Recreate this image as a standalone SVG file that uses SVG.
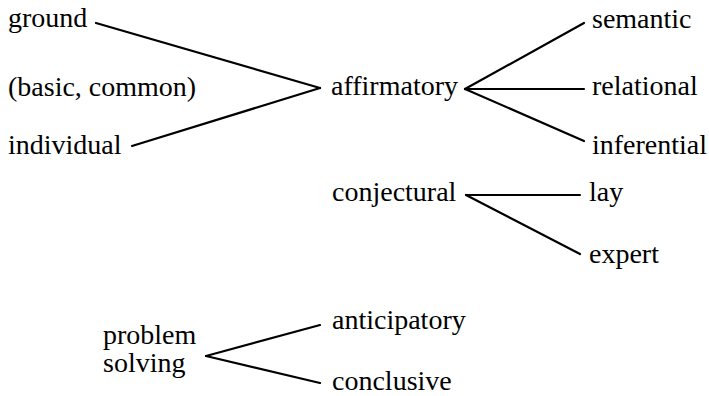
<svg xmlns="http://www.w3.org/2000/svg" width="709" height="396" viewBox="0 0 709 396">
<style>
text{font-family:'Liberation Serif','DejaVu Serif',serif;font-size:28px;fill:#000}
.c line{stroke:#000;stroke-width:2.2;stroke-linecap:round}
</style>
<rect width="709" height="396" fill="#fff"/>
<g class="c" id="connectors">
<line x1="96" y1="23" x2="320" y2="88"/>
<line x1="132" y1="146" x2="320" y2="88"/>
<line x1="465" y1="89" x2="584" y2="23"/>
<line x1="465" y1="89" x2="584" y2="89"/>
<line x1="465" y1="89" x2="584" y2="141"/>
<line x1="466" y1="195" x2="580" y2="195"/>
<line x1="466" y1="195" x2="580" y2="254"/>
<line x1="206" y1="356" x2="320" y2="325"/>
<line x1="206" y1="356" x2="320" y2="383"/>
</g>
<g id="ground"><text x="8" y="27">ground</text></g>
<g id="basic"><text x="8" y="96">(basic, common)</text></g>
<g id="individual"><text x="8" y="154">individual</text></g>
<g id="affirmatory"><text x="331" y="95">affirmatory</text></g>
<g id="semantic"><text x="592" y="28">semantic</text></g>
<g id="relational"><text x="592" y="95">relational</text></g>
<g id="inferential"><text x="592" y="154">inferential</text></g>
<g id="conjectural"><text x="332" y="201">conjectural</text></g>
<g id="lay"><text x="589" y="201">lay</text></g>
<g id="expert"><text x="589" y="263">expert</text></g>
<g id="problem-solving"><text x="103" y="344">problem</text><text x="103" y="372">solving</text></g>
<g id="anticipatory"><text x="332" y="329">anticipatory</text></g>
<g id="conclusive"><text x="332" y="390">conclusive</text></g>
</svg>
